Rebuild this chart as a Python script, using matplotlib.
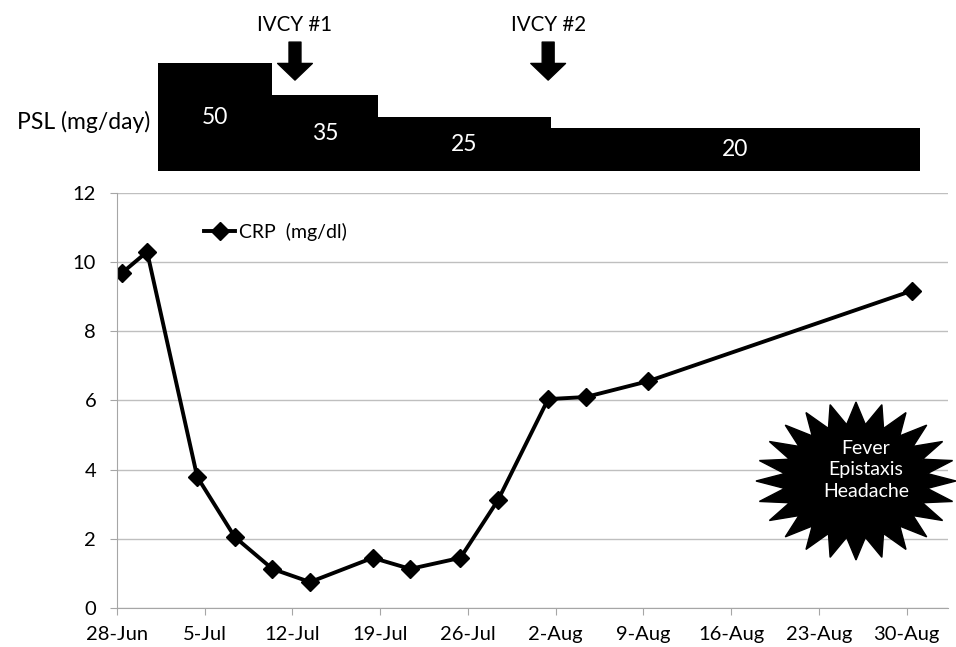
import numpy as np
import pandas as pd
import matplotlib
matplotlib.use("Agg")
import matplotlib.pyplot as plt
from matplotlib.patches import Polygon

plt.rcParams['font.family'] = ['Lato', 'DejaVu Sans']

# datos CRP (fechas de medicion y valores en mg/dl)
crp_fechas = ["28-Jun", "30-Jun", "4-Jul", "7-Jul", "10-Jul", "13-Jul", "18-Jul",
              "21-Jul", "25-Jul", "28-Jul", "1-Aug", "4-Aug", "9-Aug", "30-Aug"]
crp_valores = [9.69, 10.3, 3.79, 2.05, 1.13, 0.75, 1.45,
               1.13, 1.45, 3.12, 6.04, 6.1, 6.56, 9.17]

# etiquetas del eje x (cada 7 dias)
tick_etiquetas = ["28-Jun", "5-Jul", "12-Jul", "19-Jul", "26-Jul",
                  "2-Aug", "9-Aug", "16-Aug", "23-Aug", "30-Aug"]

# PSL: dosis y periodos (dias desde 28-Jun)
psl_dosis = [50, 35, 25, 20]
psl_inicio = [2.9, 12.0, 20.4, 34.2]
psl_fin = [12.0, 20.4, 34.2, 63.7]

# IVCY
ivcy_etiquetas = ["IVCY #1", "IVCY #2"]
ivcy_dia = [13.8, 34.0]

sintomas = "Fever\nEpistaxis\nHeadache"

# convertir fechas a dias
fechas = pd.to_datetime([f + "-2013" for f in crp_fechas], format="%d-%b-%Y")
crp_dias = (fechas - fechas[0]).days.values
tick_pos = np.arange(0, 7 * len(tick_etiquetas), 7) - 0.4  # ejes tipo Excel

fig = plt.figure(figsize=(9.56, 6.47), dpi=100)
ax = fig.add_axes([0.1224, 0.0603, 0.8692, 0.6414])

ax.plot(crp_dias, crp_valores, color="black", lw=2.8, marker="D", ms=9,
        label="CRP  (mg/dl)")
ax.set_xlim(-0.4, 65.9)
ax.set_ylim(0, 12)
ax.set_yticks(np.arange(0, 13, 2))
ax.set_xticks(tick_pos)
ax.set_xticklabels(tick_etiquetas)
ax.grid(axis="y", color="#bfbfbf", lw=1)
ax.set_axisbelow(True)
for s in ["top", "right"]:
    ax.spines[s].set_visible(False)
for s in ["left", "bottom"]:
    ax.spines[s].set_color("#a6a6a6")
ax.tick_params(axis="both", colors="#a6a6a6", labelcolor="black", labelsize=14.5,
               length=5)
ax.tick_params(axis="y", pad=10)
ax.tick_params(axis="x", pad=8)
ax.legend(loc="center left", bbox_to_anchor=(0.105, 0.906), frameon=False,
          fontsize=14, handlelength=1.6, handletextpad=0.2, borderpad=0,
          borderaxespad=0)

# panel superior PSL
ax_top = fig.add_axes([0.1224, 0.7357, 0.8692, 0.2643], sharex=ax)
ax_top.set_ylim(0, 79.2)
ax_top.axis("off")
anchos = [f - i for i, f in zip(psl_inicio, psl_fin)]
ax_top.bar(psl_inicio, psl_dosis, width=anchos, align="edge", color="black")
for i, w, d in zip(psl_inicio, anchos, psl_dosis):
    ax_top.text(i + w / 2, d / 2, str(d), color="white", ha="center",
                va="center", fontsize=16.5)

for lab, x in zip(ivcy_etiquetas, ivcy_dia):
    ax_top.text(x, 67.6, lab, ha="center", va="center", fontsize=14.8)
    ax_top.annotate("", xy=(x, 42.1), xytext=(x, 59.7),
                    arrowprops=dict(facecolor="black", edgecolor="black",
                                    width=8.6, headwidth=25, headlength=12,
                                    shrink=0))

fig.text(150 / 956, 1 - 122 / 647, "PSL (mg/day)", ha="right", va="center",
         fontsize=16.5)

# estrella de sintomas
n = 24
ang = np.linspace(0, 2 * np.pi, 2 * n, endpoint=False) + np.pi / 2
rad = np.where(np.arange(2 * n) % 2 == 0, 1.0, 0.72)
cx, cy = 856 / 956, 1 - 481 / 647
rx, ry = 100 / 956, 79 / 647
pts = np.column_stack([cx + rx * rad * np.cos(ang), cy + ry * rad * np.sin(ang)])
fig.patches.append(Polygon(pts, closed=True, transform=fig.transFigure,
                           facecolor="black", edgecolor="black"))
fig.text(866 / 956, 1 - 470 / 647, sintomas, color="white", ha="center",
         va="center", fontsize=14, linespacing=1.35)

fig.savefig("out.png", dpi=100)
